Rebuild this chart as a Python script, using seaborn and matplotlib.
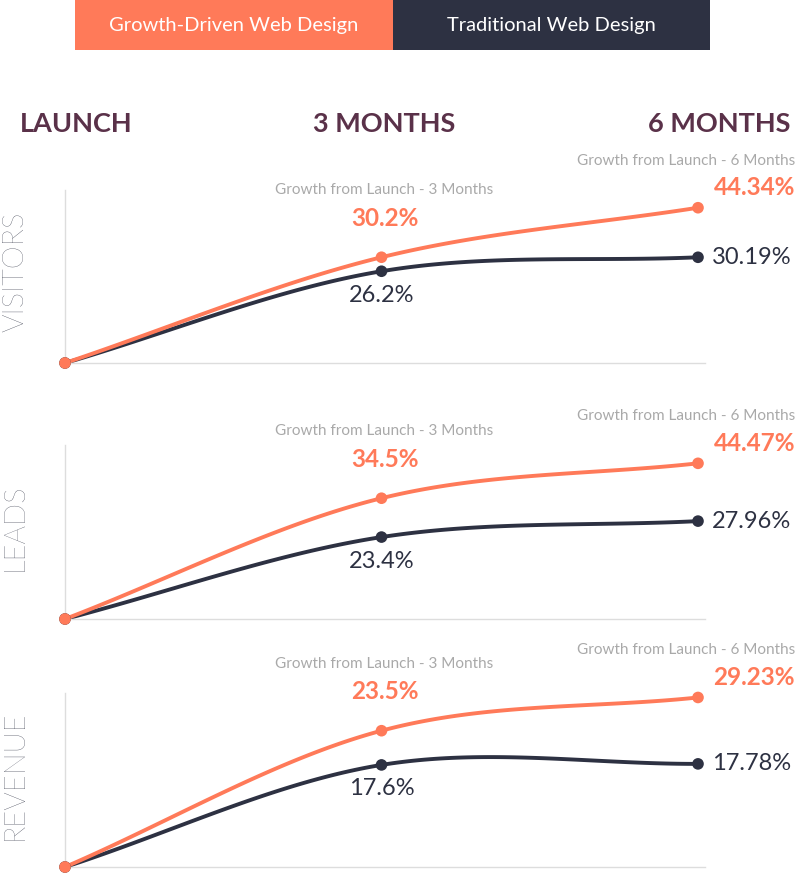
import numpy as np
import pandas as pd
import matplotlib
matplotlib.use("Agg")
import matplotlib.pyplot as plt
import seaborn as sns

plt.rcParams["font.family"] = "Lato"

W, H = 800, 873
ORANGE = "#ff7a59"
DARK = "#2d3142"
PURPLE = "#5a3149"
GREY = "#a9a9a9"
LINE = "#dddddd"

stages = [0, 1, 2]
metrics = ["VISITORS", "LEADS", "REVENUE"]
growth_vals = [[0, 30.2, 44.34], [0, 34.5, 44.47], [0, 23.5, 29.23]]
trad_vals = [[0, 26.2, 30.19], [0, 23.4, 27.96], [0, 17.6, 17.78]]
y_max = [49.4, 49.7, 30.0]
# panel geometry in pixels: (axis top, baseline)
panels = [(190, 363), (445, 619), (693, 867)]

fig = plt.figure(figsize=(W / 100, H / 100), dpi=100)


def fig_rect(x0, y0, x1, y1):
    return [x0 / W, 1 - y1 / H, (x1 - x0) / W, (y1 - y0) / H]


# legend boxes
for (x0, x1, col, txt) in [(75, 393, ORANGE, "Growth-Driven Web Design"),
                           (393, 710, DARK, "Traditional Web Design")]:
    bx = fig.add_axes(fig_rect(x0, 0, x1, 50))
    bx.set_facecolor(col)
    bx.set_xticks([]); bx.set_yticks([])
    for s in bx.spines.values():
        s.set_visible(False)
    bx.text(0.5, 0.5, txt, color="white", fontsize=14.5, ha="center", va="center",
            transform=bx.transAxes)

# column headers
for x, txt, ha in [(20, "LAUNCH", "left"), (384, "3 MONTHS", "center"), (790, "6 MONTHS", "right")]:
    fig.text(x / W, 1 - 124 / H, txt, color=PURPLE, fontsize=19.5, fontweight="bold",
             ha=ha, va="center")


def smooth(vals):
    # cubic Hermite through the three points (Catmull-Rom style tangents)
    v = np.asarray(vals, float)
    m = [v[1] - v[0], (v[2] - v[0]) / 2, v[2] - v[1]]
    xs_all, ys_all = [], []
    for k in range(2):
        t = np.linspace(0, 1, 60)
        h00 = 2 * t**3 - 3 * t**2 + 1
        h10 = t**3 - 2 * t**2 + t
        h01 = -2 * t**3 + 3 * t**2
        h11 = t**3 - t**2
        ys_all.append(h00 * v[k] + h10 * m[k] + h01 * v[k + 1] + h11 * m[k + 1])
        xs_all.append(k + t)
    return np.concatenate(xs_all), np.concatenate(ys_all)


for i, name in enumerate(metrics):
    top, base = panels[i]
    ax = fig.add_axes(fig_rect(65, top, 705, base))
    ax.set_xlim(0, 2 * 640 / 633)
    ax.set_ylim(0, y_max[i])
    for s in ["top", "right"]:
        ax.spines[s].set_visible(False)
    for s in ["left", "bottom"]:
        ax.spines[s].set_color(LINE)
        ax.spines[s].set_linewidth(1)
    ax.set_xticks([]); ax.set_yticks([])
    ax.patch.set_alpha(0)

    for vals, col in [(trad_vals[i], DARK), (growth_vals[i], ORANGE)]:
        xs, ys = smooth(vals)
        df = pd.DataFrame({"x": xs, "y": ys})
        sns.lineplot(data=df, x="x", y="y", ax=ax, color=col, linewidth=2.8,
                     clip_on=False, sort=False)
        pts = pd.DataFrame({"x": stages, "y": vals})
        sns.scatterplot(data=pts, x="x", y="y", ax=ax, color=col, s=70,
                        edgecolor="none", clip_on=False, zorder=5)
    ax.set_xlabel(""); ax.set_ylabel("")

    g, t = growth_vals[i], trad_vals[i]
    # 3 month labels
    ax.annotate(f"{g[1]}%", (1, g[1]), xytext=(3, 39), textcoords="offset pixels",
                ha="center", va="center", color=ORANGE, fontsize=17.5, fontweight="bold")
    ax.annotate(f"{t[1]}%", (1, t[1]), xytext=(0, -24), textcoords="offset pixels",
                ha="center", va="center", color=DARK, fontsize=17)
    ax.annotate("Growth from Launch - 3 Months", (1, g[1]), xytext=(3, 67),
                textcoords="offset pixels", ha="center", va="center", color=GREY, fontsize=11)
    # 6 month labels
    ax.annotate(f"{g[2]}%", (2, g[2]), xytext=(97, 20), textcoords="offset pixels",
                ha="right", va="center", color=ORANGE, fontsize=17.5, fontweight="bold")
    ax.annotate(f"{t[2]}%", (2, t[2]), xytext=(14, 0), textcoords="offset pixels",
                ha="left", va="center", color=DARK, fontsize=17)
    ax.annotate("Growth from Launch - 6 Months", (2, g[2]), xytext=(97, 47),
                textcoords="offset pixels", ha="right", va="center", color=GREY, fontsize=11)

    fig.text(15 / W, 1 - ((top + base) / 2 - 5) / H, name, rotation=90, color=DARK,
             fontsize=21, fontweight="light", ha="center", va="center")

fig.savefig("out.png", dpi=100)
